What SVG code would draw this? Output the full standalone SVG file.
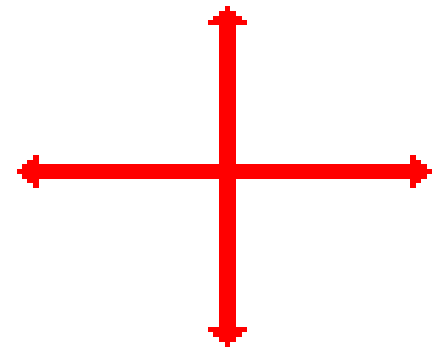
<svg xmlns="http://www.w3.org/2000/svg" width="434" height="347" viewBox="0 0 434 347">
<style>
.arrow{fill:#ff0000;stroke:none;shape-rendering:crispEdges}
</style>
<rect width="434" height="347" fill="#ffffff"/>
<g id="connectors">
<path id="horizontal" class="arrow" d="M17,169 H22 V164 H27 V160 H33 V155 H39 V164 H410 V155 H416 V160 H421 V164 H427 V169 H432 V174 H427 V179 H421 V183 H416 V188 H410 V179 H39 V188 H33 V183 H27 V179 H22 V174 H17 Z"/>
<path id="vertical" class="arrow" d="M225,6 H230 V11 H236 V16 H242 V20 H247 V25 H236 V327 H247 V332 H242 V337 H236 V342 H230 V347 H225 V342 H219 V337 H213 V332 H208 V327 H219 V25 H208 V20 H213 V16 H219 V11 H225 Z"/>
</g>
</svg>
